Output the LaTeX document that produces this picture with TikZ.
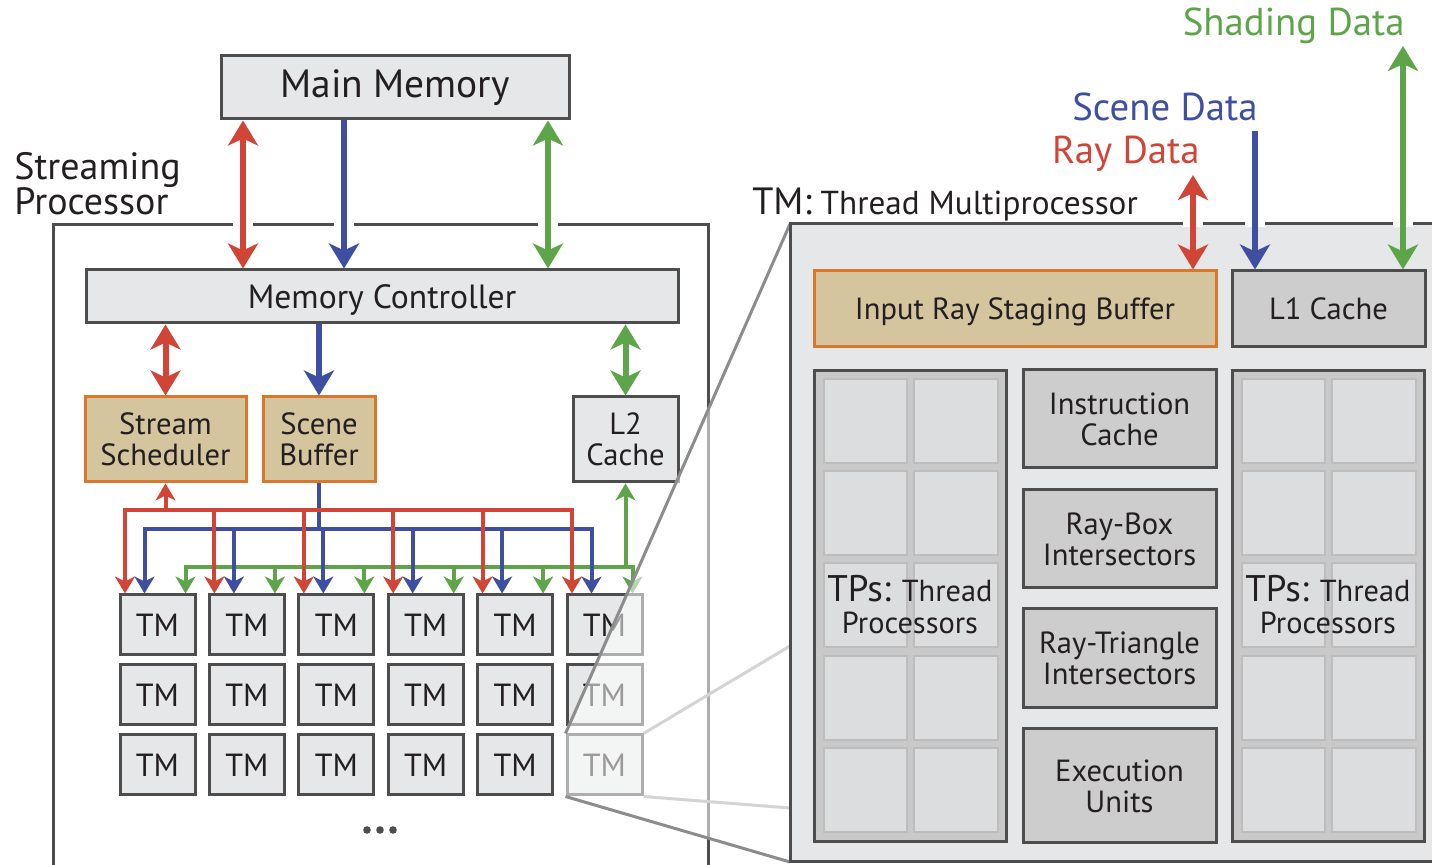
\documentclass[tikz,border=0pt]{standalone}
\usepackage{fontspec}
\setmainfont{PT Sans}
\usetikzlibrary{arrows.meta,calc}

\definecolor{cTxt}{HTML}{231F20}
\definecolor{cBox}{HTML}{E6E7E8}
\definecolor{cBdr}{HTML}{4D4D4D}
\definecolor{cTan}{HTML}{D5C59E}
\definecolor{cOrng}{HTML}{D9782D}
\definecolor{cDark}{HTML}{CDCDCD}
\definecolor{cTP}{HTML}{C9C9C9}
\definecolor{cCell}{HTML}{DCDDDF}
\definecolor{cCellB}{HTML}{BDBDBD}
\definecolor{cRed}{HTML}{D14536}
\definecolor{cBlue}{HTML}{3E4FA2}
\definecolor{cGreen}{HTML}{5DA548}
\definecolor{cZoom}{HTML}{8C8C8C}
\definecolor{cZoomL}{HTML}{D4D4D4}

% box given by its pixel corners: style, name, x1, y1, x2, y2, text
\newcommand\pxnode[7]{\node[#1, minimum width={(#5-#3)*0.5pt}, minimum height={(#6-#4)*0.5pt}] (#2) at ({(#3+#5)/2},{(#4+#6)/2}) {#7};}

\tikzset{
  bigtip/.tip={Stealth[length=12.5pt,width=15pt,inset=3.5pt]},
  smalltip/.tip={Stealth[length=8.5pt,width=10pt,inset=2.5pt]},
  box/.style={draw=cBdr, line width=1.5pt, fill=cBox, inner sep=0pt, text=cTxt, align=center,
              font=\fontsize{15.3}{15.5}\selectfont},
  tanbox/.style={box, draw=cOrng, fill=cTan},
  darkbox/.style={box, fill=cDark},
  tmbox/.style={box, font=\fontsize{16}{16}\selectfont},
  tpbox/.style={box, fill=cTP},
  cell/.style={draw=cCellB, line width=1pt, fill=cCell, inner sep=0pt},
  frame/.style={draw=cBdr, line width=1.5pt, inner sep=0pt},
  busR/.style={draw=cRed, line width=2pt},
  busB/.style={draw=cBlue, line width=2pt},
  busG/.style={draw=cGreen, line width=2pt},
  bigR/.style={draw=cRed, line width=3pt},
  bigB/.style={draw=cBlue, line width=3pt},
  bigG/.style={draw=cGreen, line width=3pt},
  gap/.style={fill=white, draw=none},
  lbl/.style={inner sep=0pt, text=cTxt},
  datalbl/.style={lbl, anchor=base east, font=\fontsize{19.4}{19.4}\selectfont},
}

\begin{document}
\begin{tikzpicture}[x=0.5pt, y=-0.5pt]
\useasboundingbox (0,0) rectangle (1432,865);

% ---------- streaming processor ----------
\node[lbl, anchor=north west, align=left, font=\fontsize{19}{17.5}\selectfont] (splbl) at (14,152) {Streaming\\Processor};
\pxnode{frame, fill=white}{sp}{53}{225}{708}{866.5}{}
\foreach \x in {243,344,548} \fill[gap] (\x-10,222) rectangle (\x+10,228.5);

\pxnode{box, font=\fontsize{19.7}{19.7}\selectfont}{mainmem}{221}{56}{569}{119}{Main Memory}
\pxnode{box, text depth=0pt, font=\fontsize{16.8}{17}\selectfont}{memctl}{86}{270}{678}{323}{Memory Controller}
\pxnode{tanbox}{sched}{85}{397}{246}{482}{Stream\\Scheduler}
\pxnode{tanbox}{scenebuf}{263}{397}{375}{482}{Scene\\Buffer}
\pxnode{box}{l2}{573}{397}{678}{482}{L2\\Cache}

% thread multiprocessors
\foreach \c in {1,...,6} {
  \pgfmathsetmacro\xa{120+89.4*(\c-1)}
  \foreach \r in {1,2,3} {
    \pgfmathsetmacro\ya{595+70*(\r-1)}
    \pxnode{tmbox}{tm\r\c}{\xa}{\ya}{\xa+75}{\ya+60}{TM}
  }
  \coordinate (rt\c) at ($(tm1\c.north west)+(6.5,0)$);
  \coordinate (bt\c) at ($(tm1\c.north west)+(26,0)$);
  \coordinate (gt\c) at ($(tm1\c.north west)+(67,0)$);
}
\coordinate (rbus) at (0,510);
\coordinate (bbus) at (0,529);
\coordinate (gbus) at (0,567);

% main memory <-> memory controller
\draw[bigR, bigtip-bigtip] (mainmem.south -| 243,0) -- (memctl.north -| 243,0);
\draw[bigB, -bigtip] (mainmem.south -| 344,0) -- (memctl.north -| 344,0);
\draw[bigG, bigtip-bigtip] (mainmem.south -| 548,0) -- (memctl.north -| 548,0);
% memory controller <-> units
\draw[bigR, bigtip-bigtip] (memctl.south -| sched) -- (sched.north);
\draw[bigB, -bigtip] (memctl.south -| scenebuf) -- (scenebuf.north);
\draw[bigG, bigtip-bigtip] (memctl.south -| l2) -- (l2.north);

% green bus
\draw[busG, smalltip-smalltip] (gt1) -- (gt1 |- gbus) -- (gt6 |- gbus) -- (gt6);
\foreach \c in {2,...,5} \draw[busG, -smalltip] (gt\c |- gbus) -- (gt\c);
\draw[busG, -smalltip] (l2.south |- gbus) -- (l2.south);
% blue bus
\draw[busB, smalltip-smalltip] (bt1) -- (bt1 |- bbus) -- (bt6 |- bbus) -- (bt6);
\foreach \c in {2,...,5} \draw[busB, -smalltip] (bt\c |- bbus) -- (bt\c);
\draw[busB] (scenebuf.south) -- (scenebuf.south |- bbus);
% red bus
\draw[busR, smalltip-smalltip] (rt1) -- (rt1 |- rbus) -- (rt6 |- rbus) -- (rt6);
\foreach \c in {2,...,5} \draw[busR, -smalltip] (rt\c |- rbus) -- (rt\c);
\draw[busR, -smalltip] (sched.south |- rbus) -- (sched.south);

% more rows follow
\foreach \x in {367,380,393} \fill[cBdr] (\x,830) circle[radius=1.9pt];

% ---------- magnified view ----------
\coordinate (pnw) at (790,224);
\coordinate (psw) at (790,862);
\coordinate (pne) at (790,646);
\coordinate (pse) at (790,808);
\fill[white, opacity=0.55] (564,736) -- (pnw) -- (psw) -- (564,797) -- cycle;
\draw[cZoomL, line width=1.5pt] (tm36.north east) -- (pne);
\draw[cZoomL, line width=1.5pt] (tm36.south east) -- (pse);
\draw[cZoom, line width=1.5pt] (tm36.north west) -- (pnw);
\draw[cZoom, line width=1.5pt] (tm36.south west) -- (psw);

\pxnode{frame, fill=cBox}{panel}{790}{224}{1450}{862}{}
\foreach \x in {1193,1255,1403} \fill[gap] (\x-10,221) rectangle (\x+10,226.8);

\node[lbl, anchor=base west] (tmlbl) at (752,215)
  {\fontsize{19}{19}\selectfont TM:\fontsize{16.6}{17}\selectfont{} Thread Multiprocessor};

\pxnode{tanbox, text depth=0pt}{irsb}{814}{271}{1216}{347}{Input Ray Staging Buffer}
\pxnode{darkbox}{l1}{1232}{271}{1425}{347}{L1 Cache}

\pxnode{darkbox}{icache}{1023}{370}{1216}{468}{Instruction\\Cache}
\pxnode{darkbox}{raybox}{1023}{490}{1216}{588}{Ray-Box\\Intersectors}
\pxnode{darkbox}{raytri}{1023}{609}{1216}{708}{Ray-Triangle\\Intersectors}
\pxnode{darkbox}{exec}{1023}{729}{1216}{843}{Execution\\Units}

\pxnode{tpbox}{tpL}{814}{371}{1006}{842}{}
\pxnode{tpbox}{tpR}{1232}{371}{1424}{842}{}
\foreach \ox in {0,418} {
  \foreach \r in {0,...,4} {
    \pgfmathsetmacro\yb{379+92.2*\r}
    \draw[cell] (824+\ox,\yb) rectangle (907+\ox,\yb+84);
    \draw[cell] (914+\ox,\yb) rectangle (998+\ox,\yb+84);
  }
}
\node[lbl, align=center, font=\fontsize{15.2}{16}\selectfont] (tpLlbl) at (910,605)
  {{\fontsize{18.5}{18.5}\selectfont TPs:} Thread\\Processors};
\node[lbl, align=center, font=\fontsize{15.2}{16}\selectfont] (tpRlbl) at (1328,605)
  {{\fontsize{18.5}{18.5}\selectfont TPs:} Thread\\Processors};

% external data paths
\node[datalbl, text=cGreen] (shadelbl) at (1405,36) {Shading Data};
\node[datalbl, text=cBlue] (scenelbl) at (1258,121) {Scene Data};
\node[datalbl, text=cRed] (raylbl) at (1200,164) {Ray Data};
\coordinate (rayend) at (1193,175);
\coordinate (sceneend) at (1255,131);
\coordinate (shadeend) at (1403,46);
\draw[bigR, bigtip-bigtip] (rayend) -- (irsb.north -| rayend);
\draw[bigB, -bigtip] (sceneend) -- (l1.north -| sceneend);
\draw[bigG, bigtip-bigtip] (shadeend) -- (l1.north -| shadeend);
\end{tikzpicture}
\end{document}
